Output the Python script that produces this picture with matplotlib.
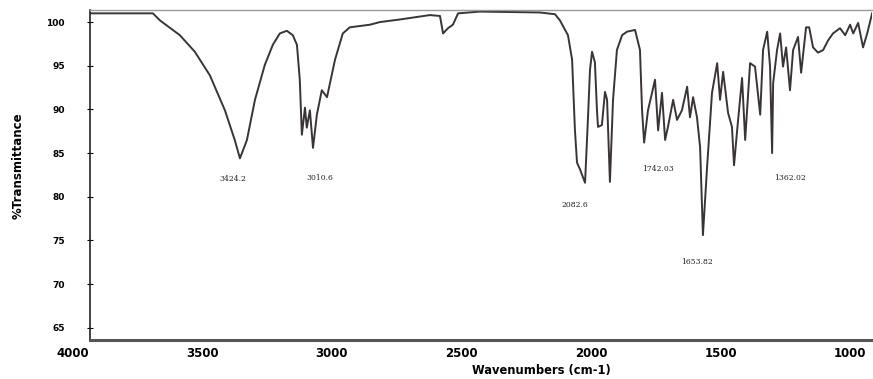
import matplotlib
matplotlib.use("Agg")
import matplotlib.pyplot as plt
import matplotlib.transforms as mtransforms

# spectrum (wavenumber cm-1, %T)
wavenumber = [3934, 3819, 3691, 3664, 3587, 3529, 3471, 3413, 3375, 3355, 3328, 3297,
              3259, 3228, 3201, 3174, 3151, 3135, 3124, 3116, 3104, 3097, 3085, 3073,
              3058, 3039, 3019, 2988, 2958, 2931, 2853, 2815, 2737, 2622, 2583, 2571,
              2552, 2533, 2513, 2429, 2197, 2139, 2120, 2089, 2073, 2062, 2054, 2042,
              2023, 2012, 2004, 1996, 1985, 1977, 1973, 1958, 1946, 1938, 1927, 1915,
              1900, 1880, 1861, 1830, 1811, 1803, 1795, 1780, 1753, 1741, 1726, 1714,
              1703, 1683, 1668, 1649, 1629, 1618, 1606, 1591, 1579, 1568, 1552, 1533,
              1513, 1502, 1490, 1471, 1456, 1448, 1436, 1417, 1405, 1386, 1367, 1347,
              1336, 1320, 1309, 1301, 1297, 1282, 1270, 1259, 1247, 1232, 1220, 1201,
              1189, 1170, 1158, 1143, 1124, 1104, 1085, 1066, 1039, 1019, 1000, 988,
              969, 950, 934, 915]
transmittance = [101.0, 101.0, 101.0, 100.2, 98.5, 96.6, 93.9, 89.9, 86.5, 84.4, 86.5, 91.1,
                 95.1, 97.4, 98.7, 99.0, 98.5, 97.4, 93.4, 87.1, 90.2, 87.9, 89.9, 85.6,
                 89.4, 92.2, 91.4, 95.7, 98.7, 99.4, 99.7, 100.0, 100.3, 100.8, 100.7, 98.7,
                 99.3, 99.7, 101.0, 101.2, 101.1, 100.9, 100.2, 98.5, 95.7, 87.6, 83.9, 83.1,
                 81.6, 88.8, 94.5, 96.6, 95.4, 89.9, 88.0, 88.2, 92.0, 91.1, 81.7, 91.1,
                 96.8, 98.5, 98.9, 99.1, 96.8, 89.9, 86.2, 89.9, 93.4, 87.6, 91.9, 86.5,
                 88.0, 91.1, 88.8, 89.9, 92.6, 89.1, 91.4, 89.1, 85.7, 75.6, 83.4, 91.9,
                 95.3, 91.1, 94.3, 89.6, 88.0, 83.6, 87.6, 93.6, 86.5, 95.3, 94.9, 89.4,
                 96.8, 98.9, 94.9, 85.0, 93.0, 96.8, 98.7, 94.9, 97.1, 92.2, 96.8, 98.3,
                 94.2, 99.4, 99.4, 97.1, 96.5, 96.8, 97.9, 98.7, 99.3, 98.5, 99.7, 98.7,
                 99.9, 97.1, 98.7, 101.0]

# peak labels and where they sit
peak_labels = ["3424.2", "3010.6", "2082.6", "1742.03", "1653.82", "1362.02"]
label_wn = [3382, 3046, 2062, 1741, 1591, 1232]
label_t = [82.0, 82.2, 79.1, 83.2, 72.5, 82.2]

x_ticks = [3500, 3000, 2500, 2000, 1500, 1000]
y_ticks = [65, 70, 75, 80, 85, 90, 95, 100]

fig = plt.figure(figsize=(8.73, 3.79), dpi=100)
ax = fig.add_axes([0.103, 0.103, 0.896, 0.871])

ax.plot(wavenumber, transmittance, color="#3a3438", linewidth=1.4)

for lab, xw, yt in zip(peak_labels, label_wn, label_t):
    ax.text(xw, yt, lab, fontsize=5.5, family="DejaVu Serif", ha="center", va="center",
            color="#222222")

ax.set_xlim(3934, 915)
ax.set_ylim(63.6, 101.4)
ax.set_xticks(x_ticks)
ax.set_yticks(y_ticks)
ax.set_xticklabels([str(v) for v in x_ticks], fontsize=8.5, fontweight="bold")
ax.set_yticklabels([str(v) for v in y_ticks], fontsize=6.5, fontweight="bold")
ax.tick_params(axis="x", length=0, pad=5)
ax.tick_params(axis="y", direction="inout", length=4, width=0.8, pad=16)

# the 4000 label sits just left of the frame
trans = mtransforms.blended_transform_factory(ax.transData, ax.transAxes)
ax.text(4000, -0.021, "4000", transform=trans, fontsize=8.5, fontweight="bold",
        ha="center", va="top", clip_on=False)

ax.spines["right"].set_visible(False)
ax.spines["top"].set_color("#999999")
ax.spines["top"].set_linewidth(1.0)
ax.spines["left"].set_color("#222222")
ax.spines["left"].set_linewidth(1.2)
ax.spines["bottom"].set_color("#555555")
ax.spines["bottom"].set_linewidth(2.2)

ax.set_xlabel("Wavenumbers (cm-1)", fontsize=8.3, fontweight="bold")
ax.set_ylabel("%Transmittance", fontsize=8.5, fontweight="bold")
ax.xaxis.set_label_coords(0.577, -0.073)
ax.yaxis.set_label_coords(-0.084, 0.527)

fig.savefig("out.png", dpi=100)
